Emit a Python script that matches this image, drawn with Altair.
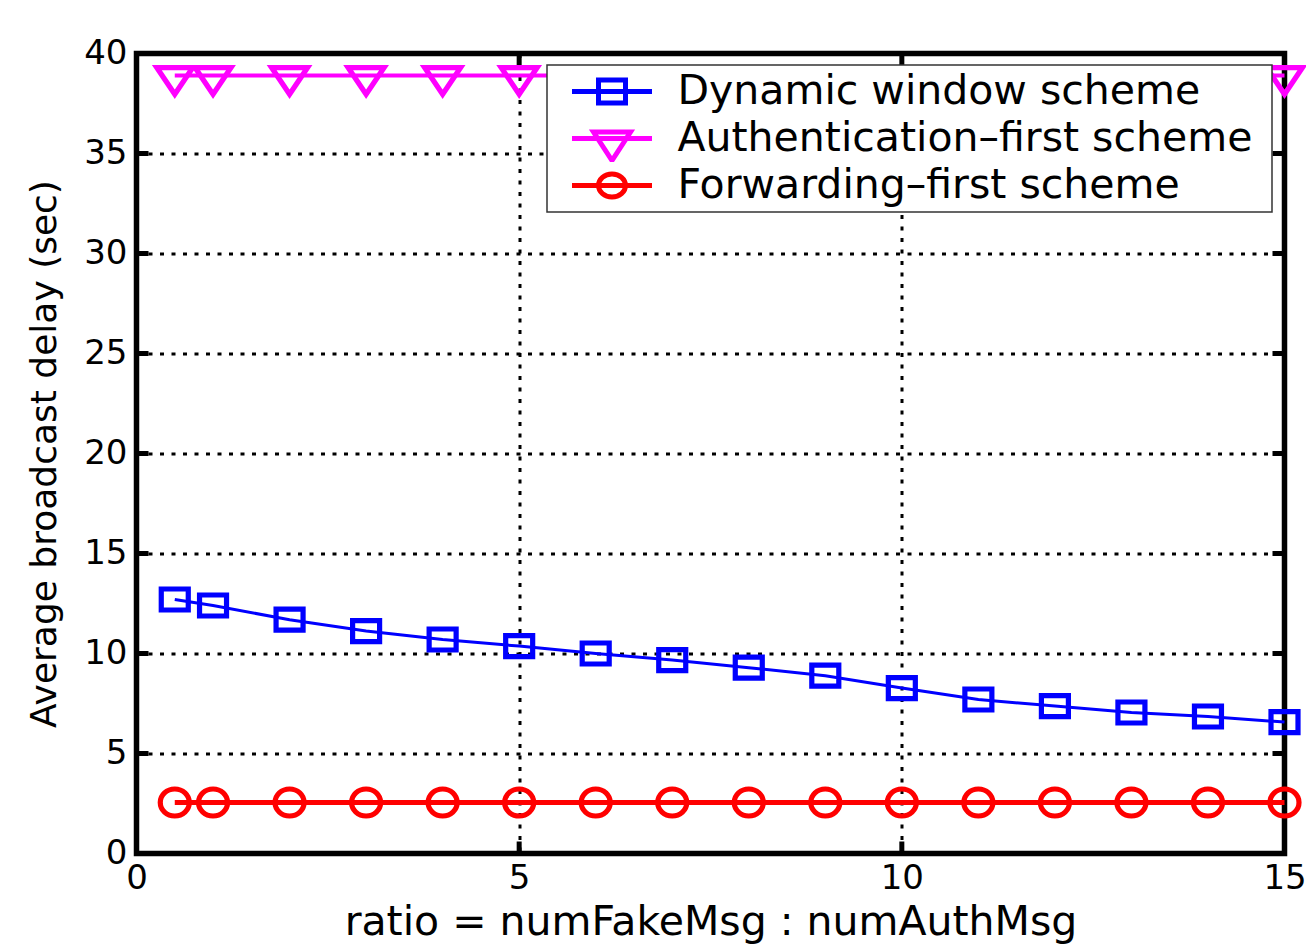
import altair as alt
import pandas as pd

# ---------------- data ----------------
ratio = [0.5, 1, 2, 3, 4, 5, 6, 7, 8, 9, 10, 11, 12, 13, 14, 15]
dynamic_window = [12.7, 12.4, 11.69, 11.12, 10.7, 10.37, 10.0, 9.67, 9.29, 8.89,
                  8.27, 7.7, 7.37, 7.05, 6.85, 6.57]
auth_first = [38.9, 38.9, 38.9, 38.9, 38.9, 38.9, 38.9, 38.9, 38.9, 38.9,
              38.9, 38.9, 38.9, 38.9, 38.9, 38.9]
forwarding_first = [2.55, 2.55, 2.55, 2.55, 2.55, 2.55, 2.55, 2.55, 2.55, 2.55,
                    2.55, 2.55, 2.55, 2.55, 2.55, 2.55]
series_names = ["Dynamic window scheme", "Authentication\u2013first scheme",
                "Forwarding\u2013first scheme"]
series_colors = ["#0000ff", "#ff00ff", "#ff0000"]
x_ticks = [0, 5, 10, 15]
y_ticks = [0, 5, 10, 15, 20, 25, 30, 35, 40]
x_inner_ticks = [5, 10]
y_inner_ticks = [5, 10, 15, 20, 25, 30, 35]

df = pd.DataFrame({
    "ratio": ratio * 3,
    "delay": dynamic_window + auth_first + forwarding_first,
    "series": [s for s in series_names for _ in ratio],
})
xt = pd.DataFrame({"ratio": x_inner_ticks})
yt = pd.DataFrame({"delay": y_inner_ticks})

# ---------------- style ----------------
FONT = "DejaVu Sans"
W, H = 1148, 800
TICK = 12

# marker paths (stretched like the reference)
sq = "M-0.9,-0.7H0.9V0.7H-0.9Z"
tri = "M-1.2,-0.53H1.2L0,1.25Z"
ell = ("M0.967,0C0.967,0.497 0.534,0.9 0,0.9C-0.534,0.9 -0.967,0.497 -0.967,0"
       "C-0.967,-0.497 -0.534,-0.9 0,-0.9C0.534,-0.9 0.967,-0.497 0.967,0Z")
data_paths = [sq, tri, ell]

lsq = "M-1,0H1M-0.3375,-0.2875H0.3375V0.2875H-0.3375Z"
ltri = "M-1,0H1M-0.4625,-0.1625H0.4625L0,0.55Z"
lell = ("M-1,0H1M0.3375,0C0.3375,0.1588 0.1864,0.2875 0,0.2875"
        "C-0.1864,0.2875 -0.3375,0.1588 -0.3375,0C-0.3375,-0.1588 -0.1864,-0.2875 0,-0.2875"
        "C0.1864,-0.2875 0.3375,-0.1588 0.3375,0Z")
legend_paths = [lsq, ltri, lell]

x_scale = alt.Scale(domain=[0, 15], nice=False, zero=False)
y_scale = alt.Scale(domain=[0, 40], nice=False)
color_scale = alt.Scale(domain=series_names, range=series_colors)

GRID = dict(gridColor="black", gridDash=[4, 7.5], gridWidth=3, gridOpacity=1)

x_axis = alt.Axis(
    values=x_ticks, grid=True, domain=False, ticks=False, tickSize=0,
    labelPadding=8, labelFont=FONT, labelFontSize=34, labelColor="black",
    labelAngle=0, labelFlush=False, format="d",
    title="ratio = numFakeMsg : numAuthMsg", titleFont=FONT, titleFontSize=41,
    titleFontWeight="normal", titleColor="black", titleY=81,
    titleBaseline="alphabetic", **GRID,
)
y_axis = alt.Axis(
    values=y_ticks, grid=True, domain=False, ticks=False, tickSize=0,
    labelPadding=9.5, labelFont=FONT, labelFontSize=34, labelColor="black",
    labelFlush=False, format="d",
    title="Average broadcast delay (sec)", titleFont=FONT, titleFontSize=36,
    titleFontWeight="normal", titleColor="black", titleAngle=270,
    titleX=-81.5, titleY=H / 2, titleAlign="center", titleBaseline="alphabetic",
    **GRID,
)

x_enc = alt.X("ratio:Q", scale=x_scale, axis=x_axis)
y_enc = alt.Y("delay:Q", scale=y_scale, axis=y_axis)

leg = alt.Legend(
    title=".", titleOrient="right", titleColor="white", titleFontSize=8,
    titlePadding=14,
    orient="none", legendX=410.5, legendY=11.5,
    padding=3, fillColor="white", strokeColor="#333333",
    symbolSize=6400, symbolStrokeWidth=5, symbolOpacity=1,
    symbolOffset=19.5, labelOffset=23,
    labelFont=FONT, labelFontSize=41, labelColor="black", labelLimit=0,
    clipHeight=47, rowPadding=0,
)

lines = alt.Chart(df).mark_line(clip=False).encode(
    x=x_enc, y=y_enc,
    color=alt.Color("series:N", scale=color_scale, legend=None),
    strokeWidth=alt.StrokeWidth("series:N",
                                scale=alt.Scale(domain=series_names, range=[3, 5, 5]),
                                legend=None),
)

points = alt.Chart(df).mark_point(filled=False, size=900, strokeWidth=5.2,
                                  opacity=1, clip=False).encode(
    x=x_enc, y=y_enc,
    color=alt.Color("series:N", scale=color_scale, legend=None),
    shape=alt.Shape("series:N", scale=alt.Scale(domain=series_names, range=data_paths),
                    legend=None),
)

legend_layer = alt.Chart(df).mark_point(filled=False, opacity=0).encode(
    x=x_enc, y=y_enc,
    color=alt.Color("series:N", scale=color_scale, legend=leg),
    shape=alt.Shape("series:N", scale=alt.Scale(domain=series_names, range=legend_paths),
                    legend=leg),
)

tick_left = alt.Chart(yt).mark_rule(color="black", strokeWidth=5).encode(
    y=y_enc, x=alt.value(0), x2=alt.value(TICK))
tick_right = alt.Chart(yt).mark_rule(color="black", strokeWidth=5).encode(
    y=y_enc, x=alt.value(W - TICK), x2=alt.value(W))
tick_bottom = alt.Chart(xt).mark_rule(color="black", strokeWidth=5).encode(
    x=x_enc, y=alt.value(H - TICK), y2=alt.value(H))
tick_top = alt.Chart(xt).mark_rule(color="black", strokeWidth=5).encode(
    x=x_enc, y=alt.value(0), y2=alt.value(TICK))

chart = alt.layer(
    lines, tick_left, tick_right, tick_bottom, tick_top, points, legend_layer
).resolve_scale(
    shape="independent"
).resolve_legend(
    color="independent", shape="independent"
).properties(
    width=W, height=H,
    autosize=alt.AutoSizeParams(type="none"),
    padding={"left": 128.5, "top": 45.5, "right": 21.5, "bottom": 90.5},
    background="white",
).configure_view(
    stroke="black", strokeWidth=5.5
).configure_legend(
    strokeWidth=1.5
)

chart.save("out.html", embed_options={"renderer": "svg", "actions": False})
